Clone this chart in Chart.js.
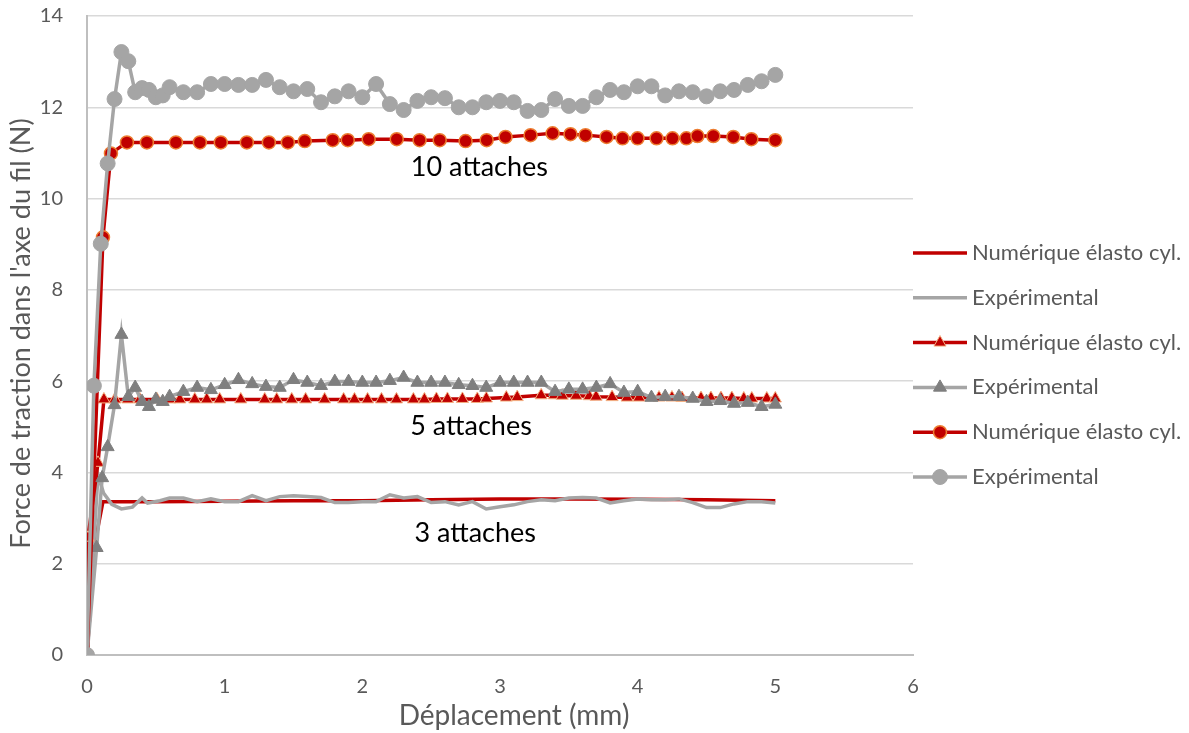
<!DOCTYPE html>
<html>
<head>
<meta charset="utf-8">
<script src="https://cdn.jsdelivr.net/npm/chart.js@4/dist/chart.umd.min.js"></script>
<style>
html,body{margin:0;padding:0;background:#fff;}
#wrap{width:1189px;height:733px;}
</style>
</head>
<body>
<div id="wrap"><canvas id="c" width="1189" height="733"></canvas></div>
<script>
// ---------- DATA ----------
const seriesNames = ["Numérique élasto cyl.", "Expérimental", "Numérique élasto cyl.", "Expérimental", "Numérique élasto cyl.", "Expérimental"];

// 3 attaches
const num3X = [0, 0.058, 0.116, 0.5, 1, 1.5, 2, 2.5, 3, 3.5, 4, 4.5, 5];
const num3Y = [0, 2.46, 3.36, 3.36, 3.37, 3.38, 3.38, 3.40, 3.42, 3.42, 3.41, 3.40, 3.38];

const exp3X = [0, 0.08, 0.12, 0.18, 0.25, 0.33, 0.4, 0.44, 0.53, 0.6, 0.7, 0.8, 0.9, 1.0, 1.1, 1.2, 1.3, 1.4, 1.5, 1.6, 1.7, 1.8, 1.9, 2.0, 2.1, 2.2, 2.3, 2.4, 2.5, 2.6, 2.7, 2.8, 2.9, 3.0, 3.1, 3.2, 3.3, 3.4, 3.5, 3.6, 3.7, 3.8, 3.9, 4.0, 4.1, 4.2, 4.3, 4.4, 4.5, 4.6, 4.7, 4.8, 4.9, 5.0];
const exp3Y = [0, 3.95, 3.55, 3.30, 3.20, 3.24, 3.44, 3.33, 3.38, 3.44, 3.44, 3.36, 3.42, 3.36, 3.36, 3.49, 3.38, 3.47, 3.49, 3.47, 3.45, 3.34, 3.34, 3.36, 3.36, 3.51, 3.44, 3.47, 3.34, 3.36, 3.29, 3.36, 3.20, 3.25, 3.29, 3.36, 3.40, 3.38, 3.44, 3.45, 3.44, 3.33, 3.38, 3.42, 3.40, 3.40, 3.42, 3.34, 3.23, 3.23, 3.31, 3.36, 3.36, 3.33];

// 5 attaches
const num5X = [0, 0.007, 0.08, 0.123, 0.203, 0.297, 0.384, 0.508, 0.602, 0.674, 0.783, 0.870, 0.964, 1.117, 1.291, 1.378, 1.487, 1.588, 1.726, 1.864, 1.943, 2.038, 2.139, 2.248, 2.371, 2.451, 2.538, 2.618, 2.727, 2.835, 2.901, 3.046, 3.125, 3.299, 3.394, 3.452, 3.553, 3.648, 3.698, 3.814, 3.923, 4.010, 4.155, 4.249, 4.322, 4.460, 4.532, 4.605, 4.684, 4.771, 4.829, 4.938, 5.0];
const num5Y = [0, 2.57, 4.21, 5.60, 5.60, 5.60, 5.60, 5.60, 5.60, 5.60, 5.60, 5.60, 5.60, 5.60, 5.60, 5.60, 5.60, 5.60, 5.60, 5.60, 5.60, 5.60, 5.60, 5.60, 5.60, 5.60, 5.61, 5.61, 5.61, 5.61, 5.62, 5.64, 5.65, 5.69, 5.69, 5.68, 5.68, 5.67, 5.66, 5.65, 5.64, 5.64, 5.64, 5.64, 5.63, 5.63, 5.63, 5.63, 5.63, 5.62, 5.62, 5.62, 5.62];

const exp5X = [0, 0.07, 0.11, 0.15, 0.2, 0.25, 0.3, 0.35, 0.4, 0.45, 0.5, 0.55, 0.6, 0.7, 0.8, 0.9, 1.0, 1.1, 1.2, 1.3, 1.4, 1.5, 1.6, 1.7, 1.8, 1.9, 2.0, 2.1, 2.2, 2.3, 2.4, 2.5, 2.6, 2.7, 2.8, 2.9, 3.0, 3.1, 3.2, 3.3, 3.4, 3.5, 3.6, 3.7, 3.8, 3.9, 4.0, 4.1, 4.2, 4.3, 4.4, 4.5, 4.6, 4.7, 4.8, 4.9, 5.0];
const exp5Y = [0, 2.35, 3.88, 4.56, 5.48, 7.02, 5.66, 5.86, 5.55, 5.44, 5.60, 5.55, 5.66, 5.77, 5.86, 5.81, 5.92, 6.03, 5.94, 5.88, 5.86, 6.03, 5.97, 5.90, 5.99, 5.99, 5.97, 5.97, 6.01, 6.08, 5.97, 5.97, 5.97, 5.92, 5.90, 5.86, 5.97, 5.97, 5.97, 5.97, 5.77, 5.82, 5.82, 5.86, 5.94, 5.75, 5.77, 5.64, 5.66, 5.66, 5.62, 5.55, 5.57, 5.51, 5.53, 5.44, 5.49];

// 10 attaches
const num10X = [0, 0.116, 0.174, 0.29, 0.435, 0.646, 0.82, 0.972, 1.161, 1.321, 1.459, 1.582, 1.785, 1.894, 2.046, 2.25, 2.416, 2.562, 2.75, 2.903, 3.04, 3.222, 3.382, 3.512, 3.621, 3.774, 3.89, 3.999, 4.137, 4.253, 4.354, 4.434, 4.55, 4.695, 4.826, 5.0];
const num10Y = [0, 9.15, 10.99, 11.23, 11.23, 11.23, 11.23, 11.23, 11.23, 11.23, 11.23, 11.26, 11.28, 11.28, 11.30, 11.30, 11.28, 11.28, 11.26, 11.28, 11.35, 11.39, 11.43, 11.41, 11.39, 11.35, 11.32, 11.32, 11.32, 11.32, 11.32, 11.37, 11.37, 11.35, 11.30, 11.28];

const exp10X = [0, 0.05, 0.1, 0.15, 0.2, 0.25, 0.3, 0.35, 0.4, 0.45, 0.5, 0.55, 0.6, 0.7, 0.8, 0.9, 1.0, 1.1, 1.2, 1.3, 1.4, 1.5, 1.6, 1.7, 1.8, 1.9, 2.0, 2.1, 2.2, 2.3, 2.4, 2.5, 2.6, 2.7, 2.8, 2.9, 3.0, 3.1, 3.2, 3.3, 3.4, 3.5, 3.6, 3.7, 3.8, 3.9, 4.0, 4.1, 4.2, 4.3, 4.4, 4.5, 4.6, 4.7, 4.8, 4.9, 5.0];
const exp10Y = [0, 5.90, 9.01, 10.77, 12.18, 13.21, 13.01, 12.33, 12.42, 12.38, 12.22, 12.26, 12.44, 12.33, 12.33, 12.51, 12.51, 12.49, 12.49, 12.60, 12.44, 12.35, 12.40, 12.11, 12.24, 12.35, 12.22, 12.51, 12.07, 11.94, 12.14, 12.22, 12.20, 12.00, 12.00, 12.11, 12.14, 12.11, 11.92, 11.94, 12.18, 12.03, 12.03, 12.22, 12.38, 12.33, 12.46, 12.46, 12.26, 12.35, 12.33, 12.24, 12.35, 12.38, 12.49, 12.57, 12.71];

const xTicks = [0, 1, 2, 3, 4, 5, 6];
const yTicks = [0, 2, 4, 6, 8, 10, 12, 14];

const annotations = [
  {text: "10 attaches", x: 2.85, y: 10.69},
  {text: "5 attaches", x: 2.79, y: 5.02},
  {text: "3 attaches", x: 2.82, y: 2.66}
];
const xTitle = "Déplacement (mm)";
const yTitle = "Force de traction dans l'axe du fil (N)";

// ---------- STYLES ----------
const RED = '#c00000', GRAY = '#a5a5a5', DGRAY = '#7f7f7f';
const FONT = 'Lato';
const pts = (xs, ys) => xs.map((x, i) => ({x: x, y: ys[i]}));

const styles = [
  {color: RED, pointStyle: false, radius: 0, fill: RED, border: RED, bw: 0},
  {color: GRAY, pointStyle: false, radius: 0, fill: GRAY, border: GRAY, bw: 0},
  {color: RED, pointStyle: 'triangle', radius: 7, fill: RED, border: '#f4b183', bw: 1},
  {color: GRAY, pointStyle: 'triangle', radius: 7.5, fill: DGRAY, border: DGRAY, bw: 1},
  {color: RED, pointStyle: 'circle', radius: 6.5, fill: RED, border: '#ed7d31', bw: 1.5},
  {color: GRAY, pointStyle: 'circle', radius: 7.5, fill: GRAY, border: GRAY, bw: 1}
];
const seriesData = [pts(num3X, num3Y), pts(exp3X, exp3Y), pts(num5X, num5Y), pts(exp5X, exp5Y), pts(num10X, num10Y), pts(exp10X, exp10Y)];

const datasets = seriesData.map((d, i) => ({
  label: seriesNames[i],
  data: d,
  borderColor: styles[i].color,
  borderWidth: 3.5,
  backgroundColor: styles[i].fill,
  pointStyle: styles[i].pointStyle || 'circle',
  pointRadius: styles[i].radius,
  pointHoverRadius: styles[i].radius,
  pointBackgroundColor: styles[i].fill,
  pointBorderColor: styles[i].border,
  pointBorderWidth: styles[i].bw,
  tension: 0,
  fill: false,
  order: seriesData.length - 1 - i
}));

const extras = {
  id: 'extras',
  afterDraw(chart) {
    const ctx = chart.ctx, xs = chart.scales.x, ys = chart.scales.y, ca = chart.chartArea;
    ctx.save();
    // annotations
    ctx.fillStyle = '#000';
    ctx.font = '27px ' + FONT;
    ctx.textAlign = 'center';
    ctx.textBaseline = 'middle';
    annotations.forEach(a => ctx.fillText(a.text, xs.getPixelForValue(a.x), ys.getPixelForValue(a.y)));
    // axis titles
    ctx.fillStyle = '#595959';
    ctx.font = '28px ' + FONT;
    ctx.fillText(xTitle, (ca.left + ca.right) / 2 + 14, 716);
    ctx.save();
    ctx.font = '27px ' + FONT;
    ctx.translate(21, (ca.top + ca.bottom) / 2 - 2);
    ctx.rotate(-Math.PI / 2);
    ctx.fillText(yTitle, 0, 0);
    ctx.restore();
    // legend
    const lx0 = ca.right, lx1 = ca.right + 54, mx = ca.right + 27;
    ctx.font = '22px ' + FONT;
    ctx.textAlign = 'left';
    seriesNames.forEach((name, i) => {
      const y = 253 + i * 44.8;
      const s = styles[i];
      ctx.strokeStyle = s.color;
      ctx.lineWidth = 3.5;
      ctx.beginPath(); ctx.moveTo(lx0, y); ctx.lineTo(lx1, y); ctx.stroke();
      if (s.pointStyle) {
        ctx.fillStyle = s.fill; ctx.strokeStyle = s.border; ctx.lineWidth = s.bw;
        Chart.helpers.drawPoint(ctx, {pointStyle: s.pointStyle, radius: s.radius, borderWidth: s.bw, rotation: 0}, mx, y);
      }
      ctx.fillStyle = '#595959';
      ctx.fillText(name, lx1 + 5, y);
    });
    ctx.restore();
  }
};

new Chart(document.getElementById('c'), {
  type: 'line',
  data: {datasets: datasets},
  plugins: [extras],
  options: {
    responsive: false,
    animation: false,
    events: [],
    layout: {padding: {top: 16, right: 276, left: 0, bottom: 0}},
    plugins: {legend: {display: false}, tooltip: {enabled: false}},
    scales: {
      x: {
        type: 'linear', min: 0, max: 6,
        afterBuildTicks: s => { s.ticks = xTicks.map(v => ({value: v})); },
        afterFit: s => { s.height = 78; s.paddingLeft = 0; s.paddingRight = 0; },
        grid: {display: false, drawTicks: false},
        border: {display: true, color: '#bfbfbf', width: 2},
        ticks: {padding: 20, color: '#595959', font: {family: FONT, size: 20}}
      },
      y: {
        type: 'linear', min: 0, max: 14,
        afterBuildTicks: s => { s.ticks = yTicks.map(v => ({value: v})); },
        afterFit: s => { s.width = 87; s.paddingTop = 0; s.paddingBottom = 0; },
        grid: {color: '#d9d9d9', lineWidth: 1.5, drawTicks: false},
        border: {display: true, color: '#bfbfbf', width: 2},
        ticks: {padding: 24, color: '#595959', font: {family: FONT, size: 20}}
      }
    }
  }
});
</script>
</body>
</html>
